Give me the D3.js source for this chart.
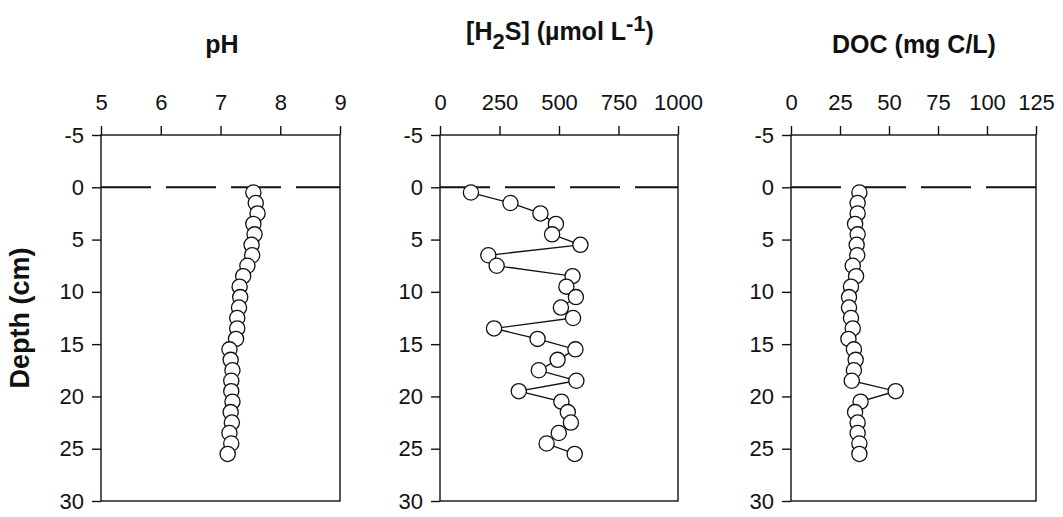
<!DOCTYPE html>
<html>
<head>
<meta charset="utf-8">
<script src="https://cdn.jsdelivr.net/npm/d3@7"></script>
<style>
  body { margin: 0; background: #fff; }
  svg text { font-family: "Liberation Sans", Arial, Helvetica, sans-serif; fill: #111; }
</style>
</head>
<body>
<div id="chart"></div>
<script>
// sample depths (cm), one value per 1 cm slice
const depths = [0.5, 1.5, 2.5, 3.5, 4.5, 5.5, 6.5, 7.5, 8.5, 9.5, 10.5, 11.5, 12.5,
                13.5, 14.5, 15.5, 16.5, 17.5, 18.5, 19.5, 20.5, 21.5, 22.5, 23.5, 24.5, 25.5];

const phValues = [7.55, 7.59, 7.62, 7.55, 7.57, 7.52, 7.53, 7.45, 7.38, 7.32, 7.33, 7.31, 7.28,
                  7.28, 7.26, 7.15, 7.17, 7.20, 7.18, 7.18, 7.20, 7.17, 7.19, 7.15, 7.18, 7.12];

const h2sValues = [130, 296, 422, 487, 471, 590, 203, 238, 557, 531, 571, 508, 559,
                   227, 410, 569, 494, 415, 573, 331, 510, 537, 550, 499, 448, 566];

const docValues = [34.9, 34.0, 34.0, 32.7, 34.0, 33.5, 33.8, 31.5, 33.2, 30.6, 29.6, 29.6, 30.6,
                   31.5, 29.3, 32.1, 33.0, 32.1, 31.0, 53.4, 35.5, 32.7, 34.0, 34.0, 34.9, 34.9];

const depthTicks = [-5, 0, 5, 10, 15, 20, 25, 30];
const phTicks = [5, 6, 7, 8, 9];
const h2sTicks = [0, 250, 500, 750, 1000];
const docTicks = [0, 25, 50, 75, 100, 125];

const panels = [
    {key: "ph", values: phValues, domain: [5, 9], ticks: phTicks, left: 101, right: 340},
    {key: "h2s", values: h2sValues, domain: [0, 1000], ticks: h2sTicks, left: 440, right: 678},
    {key: "doc", values: docValues, domain: [0, 125], ticks: docTicks, left: 791, right: 1036}
];

const size = {width: 1063, height: 517};
const plotTop = 135, plotBottom = 501;
const circleRadius = 7.6;

const svg = d3.select("#chart").append("svg")
    .attr("width", size.width)
    .attr("height", size.height);

const yScale = d3.scaleLinear().domain([-5, 30]).range([plotTop, plotBottom]);

panels.forEach(p => {
    const xScale = d3.scaleLinear().domain(p.domain).range([p.left, p.right]);
    const g = svg.append("g").attr("class", "panel-" + p.key);

    // frame
    g.append("rect")
        .attr("x", p.left).attr("y", plotTop)
        .attr("width", p.right - p.left).attr("height", plotBottom - plotTop)
        .attr("fill", "none").attr("stroke", "#111").attr("stroke-width", 1.4);

    // top axis
    const xAxisG = g.append("g")
        .attr("transform", "translate(0," + plotTop + ")")
        .call(d3.axisTop(xScale).tickValues(p.ticks).tickSize(9).tickSizeOuter(0).tickPadding(16)
            .tickFormat(d3.format("d")));
    xAxisG.select(".domain").remove();
    xAxisG.selectAll("line").attr("stroke", "#111").attr("stroke-width", 1.4);
    xAxisG.selectAll("text").style("font-size", "22px").attr("font-family", null);

    // left axis
    const yAxisG = g.append("g")
        .attr("transform", "translate(" + p.left + ",0)")
        .call(d3.axisLeft(yScale).tickValues(depthTicks).tickSize(9).tickSizeOuter(0).tickPadding(8)
            .tickFormat(d => d < 0 ? "-" + Math.abs(d) : d));
    yAxisG.select(".domain").remove();
    yAxisG.selectAll("line").attr("stroke", "#111").attr("stroke-width", 1.4);
    yAxisG.selectAll("text").style("font-size", "22px").attr("font-family", null);

    // sediment-water interface
    g.append("line")
        .attr("x1", xScale(p.domain[0])).attr("x2", xScale(p.domain[1]))
        .attr("y1", yScale(0)).attr("y2", yScale(0))
        .attr("stroke", "#111").attr("stroke-width", 2)
        .attr("stroke-dasharray", "50,15");

    const pts = depths.map((d, i) => ({depth: d, value: p.values[i]}));

    g.append("path")
        .datum(pts)
        .attr("fill", "none").attr("stroke", "#111").attr("stroke-width", 1.3)
        .attr("d", d3.line().x(d => xScale(d.value)).y(d => yScale(d.depth)));

    g.selectAll(".marker")
        .data(pts)
        .join("circle")
        .attr("class", "marker")
        .attr("cx", d => xScale(d.value))
        .attr("cy", d => yScale(d.depth))
        .attr("r", circleRadius)
        .attr("fill", "#fff").attr("stroke", "#111").attr("stroke-width", 1.3);
});

// titles
svg.append("text")
    .attr("x", 222).attr("y", 53)
    .attr("text-anchor", "middle")
    .style("font-size", "25px").style("font-weight", "bold")
    .text("pH");

const h2sTitle = svg.append("text")
    .attr("x", 560).attr("y", 40)
    .attr("text-anchor", "middle")
    .style("font-size", "25px").style("font-weight", "bold");
h2sTitle.append("tspan").text("[H");
h2sTitle.append("tspan").attr("dy", 9).style("font-size", "22px").text("2");
h2sTitle.append("tspan").attr("dy", -9).text("S] (µmol L");
h2sTitle.append("tspan").attr("dy", -9).style("font-size", "22px").text("-1");
h2sTitle.append("tspan").attr("dy", 9).text(")");

svg.append("text")
    .attr("x", 914).attr("y", 53)
    .attr("text-anchor", "middle")
    .style("font-size", "25px").style("font-weight", "bold")
    .text("DOC (mg C/L)");

// y axis label
svg.append("text")
    .attr("transform", "translate(29,318) rotate(-90)")
    .attr("text-anchor", "middle")
    .style("font-size", "27px").style("font-weight", "bold")
    .text("Depth (cm)");
</script>
</body>
</html>
